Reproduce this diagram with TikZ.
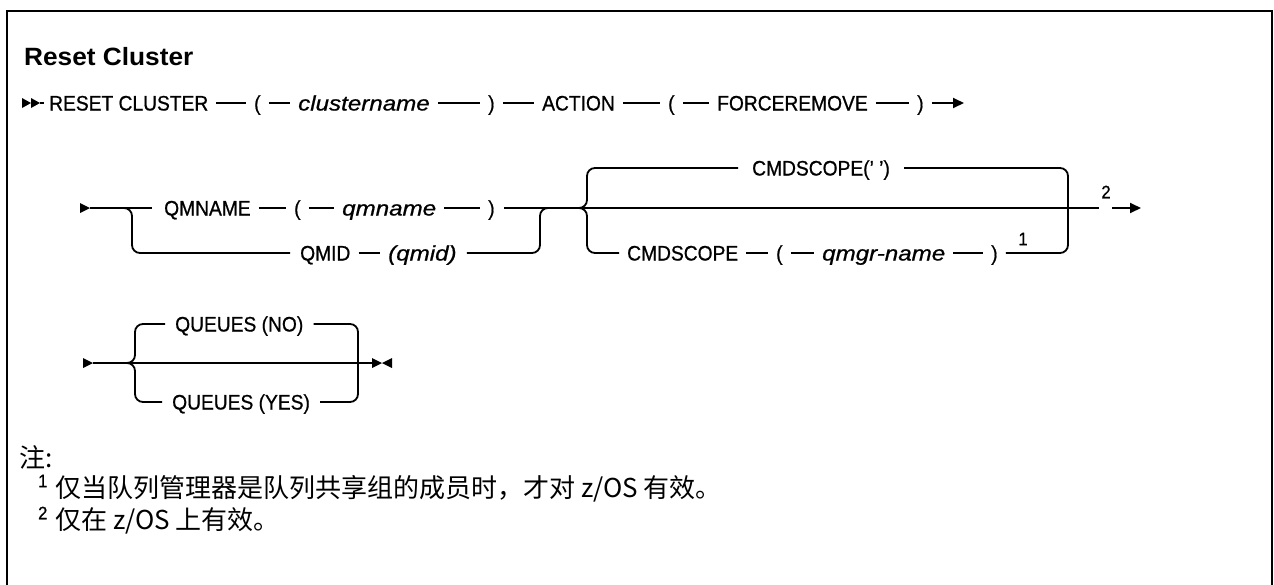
\documentclass[tikz,border=0pt]{standalone}
\usepackage{fontspec}
\setmainfont{Liberation Sans}[FakeStretch=0.915,FakeBold=0.8]
\newfontfamily\itf{Liberation Sans}[FakeStretch=1.15,FakeBold=0.8]
\newfontfamily\ttl{Liberation Sans}[FakeStretch=1.05]
\newfontfamily\cjk{Noto Sans CJK SC}
\usetikzlibrary{arrows.meta}
\tikzset{
  tok/.style={inner sep=0pt, text height=15pt, text depth=0pt, anchor=west, font=\fontsize{21}{25}\selectfont},
  var/.style={tok, font=\fontsize{21}{25}\selectfont\itf\itshape},
  seg/.style={shorten <=8pt, shorten >=8pt},
  rail/.style={line width=1.8pt},
  fork/.style={rail, rounded corners=8pt},
  tip/.style={-{Triangle[length=11pt,width=10pt]}},
  fn/.style={inner sep=0pt, font=\fontsize{18}{21}\selectfont},
  note/.style={inner sep=0pt, anchor=west, font=\fontsize{26}{30}\selectfont\cjk},
}
\begin{document}
\begin{tikzpicture}[x=1pt,y=-1pt]
\useasboundingbox (0,0) rectangle (1274,584);
\draw[line width=2pt] (7,600) -- (7,11) -- (1272,11) -- (1272,600);
\node[anchor=base west, inner sep=0pt, font=\fontsize{25}{30}\selectfont\ttl\bfseries] (title) at (24,65) {Reset Cluster};

% ---------- line 1
\fill (22,98) -- (31,103) -- (22,108) -- cycle;
\fill (31,98) -- (40,103) -- (31,108) -- cycle;
\coordinate (s1) at (40,103);
\node[tok] (rc) at (49,103) {RESET CLUSTER};
\node[tok] (lp1) at (254,103) {(};
\node[var] (cn) at (298,103) {clustername};
\node[tok] (rp1) at (488,103) {)};
\node[tok] (act) at (542,103) {ACTION};
\node[tok] (lp2) at (668,103) {(};
\node[tok] (fr) at (717,103) {FORCEREMOVE};
\node[tok] (rp2) at (917,103) {)};
\coordinate (e1) at (964,103);
\draw[rail, shorten >=5pt] (s1) -- (rc);
\draw[rail, seg] (rc) -- (lp1);
\draw[rail, seg] (lp1) -- (cn);
\draw[rail, seg] (cn) -- (rp1);
\draw[rail, seg] (rp1) -- (act);
\draw[rail, seg] (act) -- (lp2);
\draw[rail, seg] (lp2) -- (fr);
\draw[rail, seg] (fr) -- (rp2);
\draw[rail, tip, shorten <=8pt] (rp2) -- (e1);

% ---------- line 2
\fill (80,203) -- (90,208) -- (80,213) -- cycle;
\coordinate (s2) at (90,208);
\node[tok] (qmn) at (164,208) {QMNAME};
\node[tok] (lp3) at (294,208) {(};
\node[var] (qn) at (342,208) {qmname};
\node[tok] (rp3) at (488,208) {)};
\node[tok] (qmid) at (300,253) {QMID};
\node[var] (qv) at (388,253) {(qmid)};
\coordinate (j1) at (132,253);
\coordinate (j2) at (540,208);
\coordinate (j2t) at (556,208);
\coordinate (b1) at (579,208);
\draw[rail, shorten >=12pt] (s2) -- (qmn);
\draw[fork, shorten >=10pt] (s2) -| (j1) -- (qmid);
\draw[rail, seg] (qmn) -- (lp3);
\draw[rail, seg] (lp3) -- (qn);
\draw[rail, seg] (qn) -- (rp3);
\draw[rail, seg] (qmid) -- (qv);
\draw[rail, shorten <=9pt] (rp3) -- (b1);
\draw[fork, shorten <=10pt] (qv) -| (j2) -- (j2t);

% cmdscope group
\node[tok] (cst) at (752,168) {CMDSCOPE(' ')};
\node[tok] (csb) at (627,253) {CMDSCOPE};
\node[tok] (lp4) at (776,253) {(};
\node[var] (qg) at (822,253) {qmgr-name};
\node[tok] (rp4) at (991,253) {)};
\node[fn] (f1) at (1023,239) {1};
\coordinate (b2) at (1068,208);
\coordinate (lt) at (587,168);
\coordinate (lb) at (587,253);
\draw[rail] (b1) -- (b2);
\draw[fork, shorten >=14pt] (b1) -| (lt) -- (cst);
\draw[fork, shorten >=8pt] (b1) -| (lb) -- (csb);
\draw[fork, shorten <=14pt] (cst) -| (b2);
\draw[fork, shorten <=8pt] (rp4) -| (b2);
\draw[rail, seg] (csb) -- (lp4);
\draw[rail, seg] (lp4) -- (qg);
\draw[rail, seg] (qg) -- (rp4);
\node[fn] (f2) at (1106,192) {2};
\coordinate (e2a) at (1099,208);
\coordinate (e2b) at (1112,208);
\coordinate (e2) at (1141,208);
\draw[rail] (b2) -- (e2a);
\draw[rail, tip] (e2b) -- (e2);

% ---------- line 3
\fill (83,358) -- (93,363) -- (83,368) -- cycle;
\coordinate (s3) at (93,363);
\coordinate (m3) at (127,363);
\coordinate (m3r) at (358,363);
\coordinate (q3t) at (135,324);
\coordinate (q3b) at (135,402);
\node[tok] (qno) at (175,324) {QUEUES (NO)};
\node[tok] (qyes) at (172,402) {QUEUES (YES)};
\draw[rail] (s3) -- (m3r);
\draw[fork, shorten >=10pt] (m3) -| (q3t) -- (qno);
\draw[fork, shorten >=10pt] (m3) -| (q3b) -- (qyes);
\draw[fork, shorten <=10pt] (qno) -| (m3r);
\draw[fork, shorten <=10pt] (qyes) -| (m3r);
\coordinate (e3) at (372,363);
\draw[rail] (m3r) -- (e3);
\fill (372,358) -- (382,363) -- (372,368) -- cycle;
\fill (392,358) -- (382,363) -- (392,368) -- cycle;

% ---------- notes
\node[note] (zhu) at (19,457) {注:};
\node[fn, anchor=west] (n1s) at (38,481) {1};
\node[note] (n1) at (55,489) {仅当队列管理器是队列共享组的成员时，才对 z/OS 有效。};
\node[fn, anchor=west] (n2s) at (38,513) {2};
\node[note] (n2) at (55,521) {仅在 z/OS 上有效。};
\end{tikzpicture}
\end{document}
